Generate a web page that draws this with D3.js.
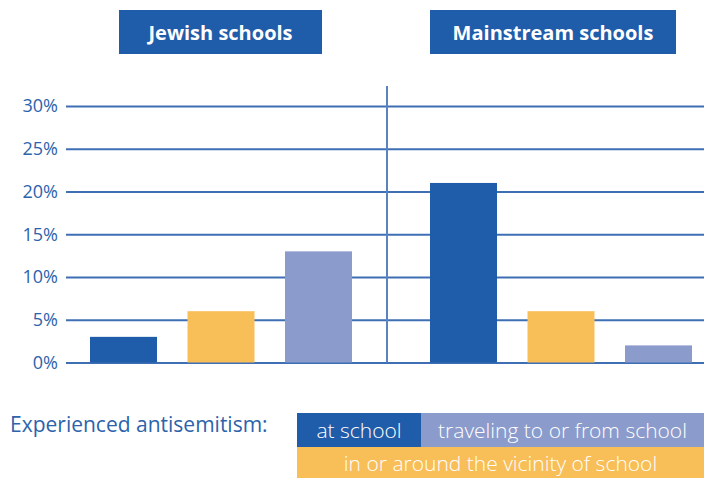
<!DOCTYPE html>
<html>
<head>
<meta charset="utf-8">
<script src="https://cdn.jsdelivr.net/npm/d3@7"></script>
<style>
  body { margin: 0; background: #fff; }
  svg { display: block; font-family: "Open Sans", sans-serif; }
</style>
</head>
<body>
<svg id="chart" width="704" height="478"></svg>
<script>
// data
const groups = [ 'Jewish schools', 'Mainstream schools' ];
const series = [ 'at school', 'in or around the vicinity of school', 'traveling to or from school' ];
const jewishValues = [ 3, 6, 13 ];
const mainstreamValues = [ 21, 6, 2 ];
const yTicks = [ 0, 5, 10, 15, 20, 25, 30 ];
const legendTitle = 'Experienced antisemitism:';

const colors = [ '#1f5ca9', '#f8be57', '#8a9bcc' ];
const textBlue = '#2c63ab';
const gridBlue = '#3e6fb5';

const svg = d3.select( '#chart' );
const margin = { top: 106, left: 66, right: 0, bottom: 116 };
const width = 704 - margin.left - margin.right;
const plotBottom = 362.5;

const y = d3.scaleLinear()
	.domain( [ 0, 30 ] )
	.range( [ plotBottom, margin.top ] );

const xGroup = d3.scaleBand()
	.domain( groups )
	.range( [ 51, 731 ] );

const xBar = d3.scaleBand()
	.domain( d3.range( series.length ) )
	.range( [ 0, xGroup.bandwidth() ] )
	.paddingInner( 0.313 )
	.paddingOuter( 0.4 );

// gridlines + tick labels
const yAxis = d3.axisLeft( y )
	.tickValues( yTicks )
	.tickSize( -width )
	.tickPadding( 8 )
	.tickFormat( d => d + '%' );

const axisG = svg.append( 'g' )
	.attr( 'transform', `translate(${ margin.left },0)` )
	.call( yAxis );

axisG.select( '.domain' ).remove();
axisG.selectAll( 'line' )
	.attr( 'stroke', gridBlue )
	.attr( 'stroke-width', 2 );
axisG.selectAll( 'text' )
	.attr( 'fill', textBlue )
	.style( 'font-size', '18px' )
	.style( 'font-family', '"Open Sans", sans-serif' );

// divider between the two groups
svg.append( 'line' )
	.attr( 'x1', xGroup( groups[ 1 ] ) - 4 )
	.attr( 'x2', xGroup( groups[ 1 ] ) - 4 )
	.attr( 'y1', 86 )
	.attr( 'y2', plotBottom )
	.attr( 'stroke', '#5a83c0' )
	.attr( 'stroke-width', 2 );

// bars
const groupData = [
	{ name: groups[ 0 ], values: jewishValues },
	{ name: groups[ 1 ], values: mainstreamValues },
];

const gs = svg.selectAll( 'g.group' )
	.data( groupData )
	.join( 'g' )
	.attr( 'class', 'group' )
	.attr( 'transform', d => `translate(${ xGroup( d.name ) },0)` );

gs.selectAll( 'rect' )
	.data( d => d.values )
	.join( 'rect' )
	.attr( 'x', ( d, i ) => xBar( i ) )
	.attr( 'y', d => y( d ) )
	.attr( 'width', xBar.bandwidth() )
	.attr( 'height', d => y( 0 ) - y( d ) )
	.attr( 'fill', ( d, i ) => colors[ i ] );

// group header boxes
const headerW = [ 203, 246 ];
const headerCx = [ 220.5, 553 ];
gs.each( function( d, i ) {
	const g = d3.select( this );
	const cx = headerCx[ i ] - xGroup( d.name );
	g.append( 'rect' )
		.attr( 'x', cx - headerW[ i ] / 2 )
		.attr( 'y', 10 )
		.attr( 'width', headerW[ i ] )
		.attr( 'height', 44 )
		.attr( 'fill', colors[ 0 ] );
	g.append( 'text' )
		.attr( 'x', cx )
		.attr( 'y', 40 )
		.attr( 'text-anchor', 'middle' )
		.attr( 'fill', '#fff' )
		.style( 'font-size', '20px' )
		.style( 'font-weight', 'bold' )
		.text( d.name );
} );

// legend
svg.append( 'text' )
	.attr( 'x', 10 )
	.attr( 'y', 432 )
	.attr( 'fill', textBlue )
	.style( 'font-size', '21px' )
	.text( legendTitle );

const legendBoxes = [
	{ i: 0, x: 297, y: 413, w: 124, h: 34 },
	{ i: 2, x: 421, y: 413, w: 283, h: 34 },
	{ i: 1, x: 297, y: 447, w: 407, h: 31 },
];

const lg = svg.selectAll( 'g.legend' )
	.data( legendBoxes )
	.join( 'g' )
	.attr( 'class', 'legend' );

lg.append( 'rect' )
	.attr( 'x', d => d.x )
	.attr( 'y', d => d.y )
	.attr( 'width', d => d.w )
	.attr( 'height', d => d.h )
	.attr( 'fill', d => colors[ d.i ] );

lg.append( 'text' )
	.attr( 'x', d => d.x + d.w / 2 )
	.attr( 'y', d => d.y + d.h / 2 + 8 )
	.attr( 'text-anchor', 'middle' )
	.attr( 'fill', '#fff' )
	.style( 'font-size', '21px' )
	.style( 'font-weight', 300 )
	.text( d => series[ d.i ] );
</script>
</body>
</html>
